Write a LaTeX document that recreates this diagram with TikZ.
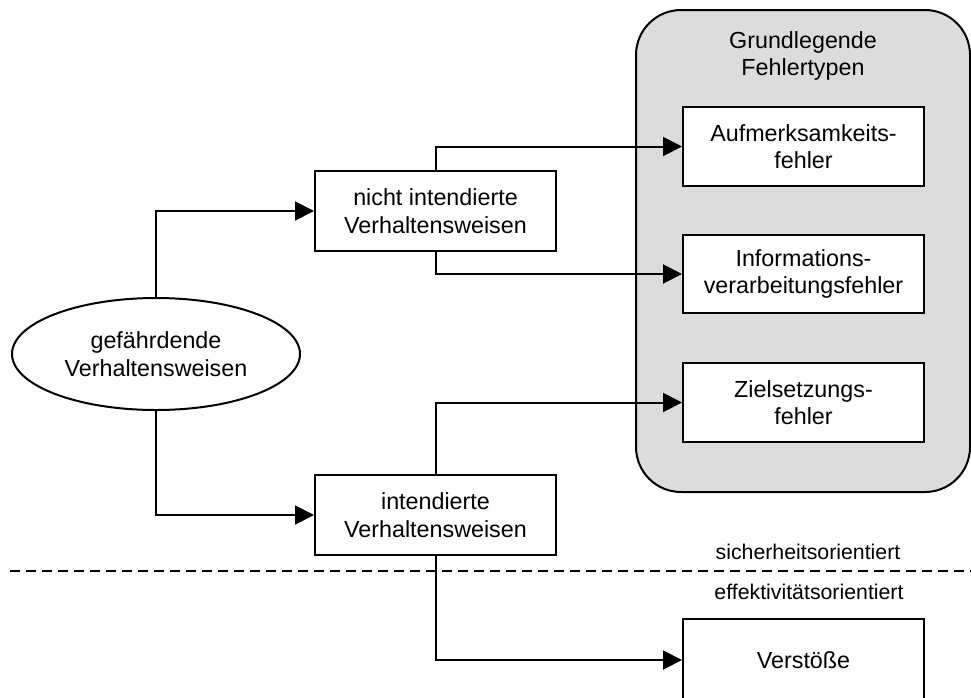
\documentclass[tikz,border=0pt]{standalone}
\usepackage{fontspec}
\setmainfont{Liberation Sans}
\usetikzlibrary{arrows.meta,shapes.geometric}
\definecolor{panelgray}{HTML}{DCDCDC}
\begin{document}
\begin{tikzpicture}[x=1pt,y=-1pt,
  line width=2pt,
  box/.style={draw,fill=white,rectangle,minimum width=241pt,align=center,inner sep=0pt,font=\fontsize{23.3}{27.5}\selectfont},
  oval/.style={draw,fill=white,ellipse,minimum width=288pt,minimum height=112pt,inner sep=0pt,align=center,font=\fontsize{23.3}{27.5}\selectfont},
  arr/.style={-{Triangle[length=19pt,width=19pt]}},
  lbl/.style={font=\fontsize{21.3}{25}\selectfont,inner sep=0pt}]
\useasboundingbox (0,0) rectangle (971,697);
\clip (0,0) rectangle (971,697);
% panel
\draw[fill=panelgray,rounded corners=45pt] (636,10) rectangle (970,492);
\node[align=center,font=\fontsize{23.3}{27.5}\selectfont] (title) at (803,56) {Grundlegende\\Fehlertypen};
% nodes
\node[oval] (ell) at (156,354) {gefährdende\\Verhaltensweisen};
\node[box,minimum height=80pt] (nicht) at (435.5,211) {nicht intendierte\\Verhaltensweisen};
\node[box,minimum height=80pt] (int) at (435.5,515) {intendierte\\Verhaltensweisen};
\node[box,minimum height=79pt] (auf) at (803.5,146.5) {Aufmerksamkeits-\\fehler};
\node[box,minimum height=78pt] (info) at (803.5,274) {Informations-\\verarbeitungsfehler};
\node[box,minimum height=79pt] (ziel) at (803.5,402.5) {Zielsetzungs-\\fehler};
\node[box,minimum height=82pt] (verst) at (803.5,660) {Verstöße};
% separator
\coordinate (dl) at (10,571);
\coordinate (dr) at (971,571);
\draw[dash pattern=on 10pt off 6pt] (dl) -- (dr);
\node[lbl] (sich) at (808,552) {sicherheitsorientiert};
\node[lbl] (eff) at (809,592) {effektivitätsorientiert};
% connectors
\draw[arr] (ell.north) |- (nicht.west);
\draw[arr] (ell.south) |- (int.west);
\draw[arr] (nicht.north) |- (auf.west);
\draw[arr] (nicht.south) |- (info.west);
\draw[arr] (int.north) |- (ziel.west);
\draw[arr] (int.south) |- (verst.west);
\end{tikzpicture}
\end{document}
